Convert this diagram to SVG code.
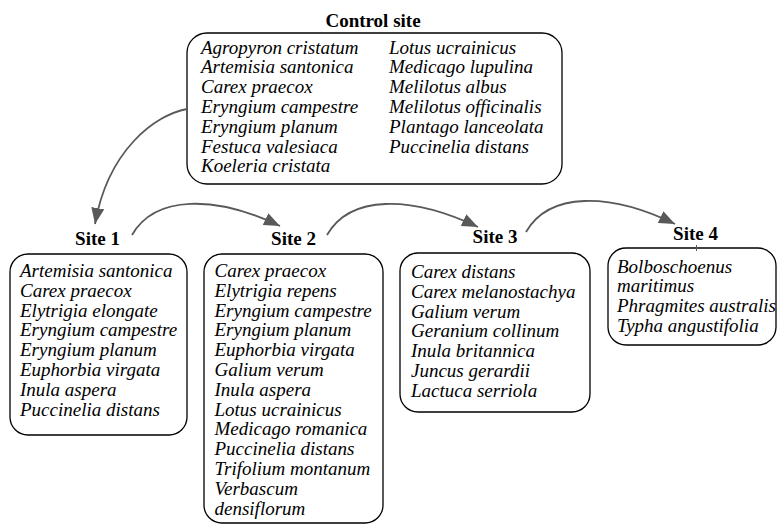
<svg xmlns="http://www.w3.org/2000/svg" width="777" height="525" viewBox="0 0 777 525">
<style>
.box{fill:#fff;stroke:#000;stroke-width:1.3}
.title{font-family:"Liberation Serif","Times New Roman",serif;font-weight:bold;font-size:19px;text-anchor:middle;fill:#000}
.sp{font-family:"Liberation Serif","Times New Roman",serif;font-style:italic;font-size:19px;fill:#000}
.arr{fill:none;stroke:#595959;stroke-width:1.8}
</style>
<defs>
<marker id="ah" markerUnits="userSpaceOnUse" markerWidth="17" markerHeight="13" refX="16" refY="6.5" orient="auto">
<path d="M0,0 L16,6.5 L0,13 z" fill="#595959"/>
</marker>
</defs>
<rect width="777" height="525" fill="#fff"/>
<g id="control">
<text class="title" x="373" y="27">Control site</text>
<rect class="box" x="187" y="33" width="375" height="151" rx="20"/>
<text class="sp" x="201" y="53.5">Agropyron cristatum</text>
<text class="sp" x="201" y="73.3">Artemisia santonica</text>
<text class="sp" x="201" y="93.1">Carex praecox</text>
<text class="sp" x="201" y="112.9">Eryngium campestre</text>
<text class="sp" x="201" y="132.7">Eryngium planum</text>
<text class="sp" x="201" y="152.5">Festuca valesiaca</text>
<text class="sp" x="201" y="172.3">Koeleria cristata</text>
<text class="sp" x="389" y="53.5">Lotus ucrainicus</text>
<text class="sp" x="389" y="73.3">Medicago lupulina</text>
<text class="sp" x="389" y="93.1">Melilotus albus</text>
<text class="sp" x="389" y="112.9">Melilotus officinalis</text>
<text class="sp" x="389" y="132.7">Plantago lanceolata</text>
<text class="sp" x="389" y="152.5">Puccinelia distans</text>
</g>
<g id="site1">
<text class="title" x="97.5" y="245">Site 1</text>
<rect class="box" x="10" y="254" width="177" height="181" rx="18"/>
<text class="sp" x="20" y="277">Artemisia santonica</text>
<text class="sp" x="20" y="296.8">Carex praecox</text>
<text class="sp" x="20" y="316.6">Elytrigia elongate</text>
<text class="sp" x="20" y="336.4">Eryngium campestre</text>
<text class="sp" x="20" y="356.2">Eryngium planum</text>
<text class="sp" x="20" y="376">Euphorbia virgata</text>
<text class="sp" x="20" y="395.8">Inula aspera</text>
<text class="sp" x="20" y="415.6">Puccinelia distans</text>
</g>
<g id="site2">
<text class="title" x="293.5" y="245">Site 2</text>
<rect class="box" x="204" y="254" width="179" height="269" rx="18"/>
<text class="sp" x="214.5" y="277">Carex praecox</text>
<text class="sp" x="214.5" y="296.8">Elytrigia repens</text>
<text class="sp" x="214.5" y="316.6">Eryngium campestre</text>
<text class="sp" x="214.5" y="336.4">Eryngium planum</text>
<text class="sp" x="214.5" y="356.2">Euphorbia virgata</text>
<text class="sp" x="214.5" y="376">Galium verum</text>
<text class="sp" x="214.5" y="395.8">Inula aspera</text>
<text class="sp" x="214.5" y="415.6">Lotus ucrainicus</text>
<text class="sp" x="214.5" y="435.4">Medicago romanica</text>
<text class="sp" x="214.5" y="455.2">Puccinelia distans</text>
<text class="sp" x="214.5" y="475">Trifolium montanum</text>
<text class="sp" x="214.5" y="494.8">Verbascum</text>
<text class="sp" x="214.5" y="514.6">densiflorum</text>
</g>
<g id="site3">
<text class="title" x="495" y="243">Site 3</text>
<rect class="box" x="400" y="253" width="190" height="159" rx="18"/>
<text class="sp" x="411" y="278">Carex distans</text>
<text class="sp" x="411" y="297.8">Carex melanostachya</text>
<text class="sp" x="411" y="317.6">Galium verum</text>
<text class="sp" x="411" y="337.4">Geranium collinum</text>
<text class="sp" x="411" y="357.2">Inula britannica</text>
<text class="sp" x="411" y="377">Juncus gerardii</text>
<text class="sp" x="411" y="396.8">Lactuca serriola</text>
</g>
<g id="site4">
<text class="title" x="695.5" y="240">Site 4</text>
<rect class="box" x="608" y="248" width="168" height="97" rx="18"/>
<text class="sp" x="617" y="272.5">Bolboschoenus</text>
<text class="sp" x="617" y="292.3">maritimus</text>
<text class="sp" x="617" y="312.1">Phragmites australis</text>
<text class="sp" x="617" y="331.9">Typha angustifolia</text>
</g>
<g id="connectors">
<path class="arr" d="M187,109 C155,115 108,150 95,224" marker-end="url(#ah)"/>
<path class="arr" d="M132,235 C155,195 215,195 280,226" marker-end="url(#ah)"/>
<path class="arr" d="M327,235 C350,195 410,195 478,227" marker-end="url(#ah)"/>
<path class="arr" d="M526,232 C549,192 609,192 675,224" marker-end="url(#ah)"/>
<line x1="696.5" y1="245" x2="696.5" y2="251" stroke="#595959" stroke-width="1"/>
</g>
</svg>
